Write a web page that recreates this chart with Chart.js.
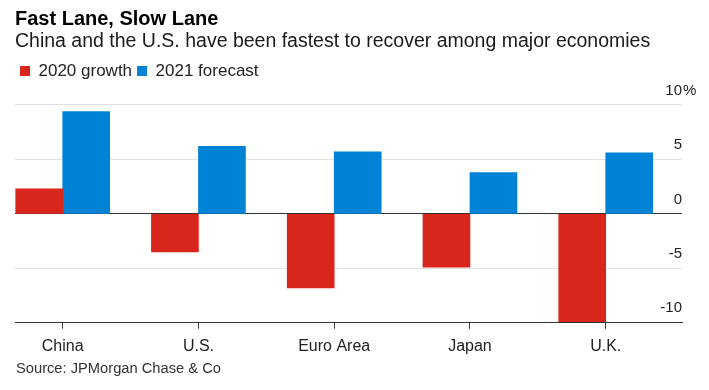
<!DOCTYPE html>
<html>
<head>
<meta charset="utf-8">
<title>Fast Lane, Slow Lane</title>
<script src="https://cdn.jsdelivr.net/npm/chart.js@4.4.1/dist/chart.umd.min.js"></script>
<style>
  html, body { margin: 0; padding: 0; background: #fff; }
  #chart { display: block; }
</style>
</head>
<body>
<canvas id="chart" width="709" height="390"></canvas>
<script>
const categories = ["China", "U.S.", "Euro Area", "Japan", "U.K."];
const growth2020 = [2.3, -3.5, -6.8, -4.9, -9.9];
const forecast2021 = [9.4, 6.2, 5.7, 3.8, 5.6];
const yTicks = [-10, -5, 0, 5, 10];

const RED = "#d9261c";
const BLUE = "#0083d6";
const FONT = "'Liberation Sans', Arial, sans-serif";

Chart.defaults.font.family = FONT;
Chart.defaults.color = "#222";

// categories sit on a linear x axis so the first group can hug the left edge
const toPoints = values => values.map((v, i) => ({ x: i, y: v }));

// the legend gets a bit more room underneath, above the 10% label
const legendGap = {
  id: "legendGap",
  afterInit(chart) {
    const legend = chart.legend;
    const fit = legend.fit;
    legend.fit = function () {
      fit.call(this);
      this.height += 15.5;
    };
  },
};

// y labels sit just above their gridlines, right aligned at the plot edge
const yLabels = {
  id: "yLabels",
  afterDraw(chart) {
    const { ctx, chartArea, scales: { y } } = chart;
    ctx.save();
    ctx.font = "15px " + FONT;
    ctx.fillStyle = "#222";
    ctx.textBaseline = "middle";
    y.ticks.forEach(t => {
      const py = y.getPixelForValue(t.value) - 14.5;
      ctx.textAlign = "right";
      ctx.fillText(String(t.value), chartArea.right, py);
      if (t.value === y.max) {
        ctx.textAlign = "left";
        ctx.fillText("%", chartArea.right + 1, py);
      }
    });
    ctx.restore();
  },
};

const source = {
  id: "source",
  afterDraw(chart) {
    const { ctx, chartArea } = chart;
    ctx.save();
    ctx.font = "14.7px " + FONT;
    ctx.fillStyle = "#333";
    ctx.textAlign = "left";
    ctx.textBaseline = "middle";
    ctx.fillText("Source: JPMorgan Chase & Co", chartArea.left + 1, 368.5);
    ctx.restore();
  },
};

new Chart(document.getElementById("chart"), {
  type: "bar",
  data: {
    datasets: [
      { label: "2020 growth", data: toPoints(growth2020), backgroundColor: RED },
      { label: "2021 forecast", data: toPoints(forecast2021), backgroundColor: BLUE },
    ],
  },
  options: {
    responsive: false,
    animation: false,
    layout: { padding: { left: 15, right: 27, top: 0, bottom: 26 } },
    barThickness: 47,
    scales: {
      x: {
        type: "linear",
        offset: false,
        min: -0.3514,
        max: 4.562,
        afterBuildTicks: scale => {
          scale.ticks = categories.map((c, i) => ({ value: i }));
        },
        grid: { display: true, offset: false, drawOnChartArea: false, drawTicks: true, tickLength: 6, color: "#333" },
        border: { display: true, color: "#333", width: 1 },
        ticks: {
          padding: 8,
          font: { size: 16 },
          color: "#222",
          callback: value => categories[value],
        },
      },
      y: {
        position: "right",
        min: -10,
        max: 10,
        afterBuildTicks: scale => {
          scale.ticks = yTicks.map(v => ({ value: v }));
        },
        ticks: { display: false },
        border: { display: false },
        grid: {
          drawTicks: false,
          color: ctx => (ctx.tick.value === 0 || ctx.tick.value === -10 ? "#333" : "#e2e2e2"),
          lineWidth: 1,
        },
      },
    },
    plugins: {
      title: {
        display: true,
        text: "Fast Lane, Slow Lane",
        align: "start",
        color: "#000",
        font: { size: 20, weight: "bold", lineHeight: 1.1 },
        padding: { top: 8, bottom: 0 },
      },
      subtitle: {
        display: true,
        text: "China and the U.S. have been fastest to recover among major economies",
        align: "start",
        color: "#1a1a1a",
        font: { size: 19.5, lineHeight: 1.1 },
        padding: { top: 1, bottom: 5 },
      },
      legend: {
        display: true,
        position: "top",
        align: "start",
        labels: {
          boxWidth: 10,
          boxHeight: 10,
          padding: 5,
          color: "#222",
          font: { size: 17 },
        },
      },
      tooltip: { enabled: false },
    },
  },
  plugins: [legendGap, yLabels, source],
});
</script>
</body>
</html>
